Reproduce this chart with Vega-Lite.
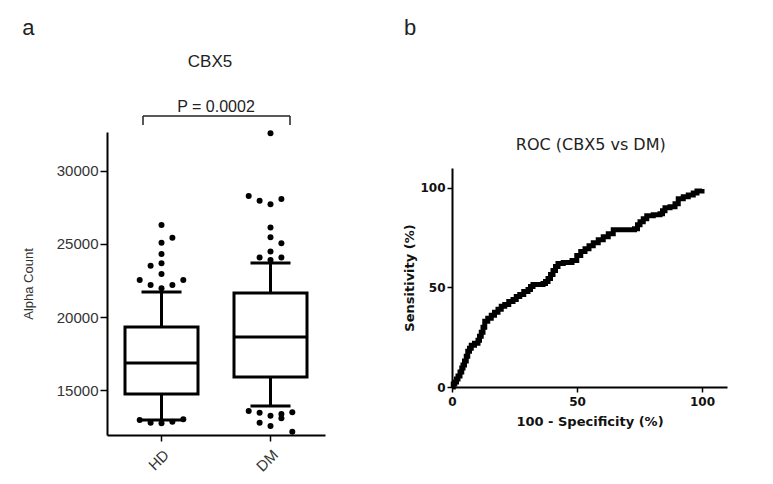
{
  "$schema": "https://vega.github.io/schema/vega-lite/v6.json",
  "background": "white",
  "padding": {"left": 22, "top": 16, "right": 5, "bottom": 5},
  "config": {"view": {"stroke": null}, "axis": {"grid": false, "domainColor": "black", "tickColor": "black"}},
  "spacing": 78,
  "hconcat": [
    {
      "width": 218,
      "height": 303,
      "title": {"text": "a", "anchor": "start", "font": "Liberation Sans", "fontSize": 22, "fontWeight": "normal", "color": "#222", "offset": 13},
      "layer": [
        {
          "data": {"values": [
            {"group": "HD", "lower": 12950, "q1": 14730, "median": 16850, "q3": 19320, "upper": 21710},
            {"group": "DM", "lower": 13900, "q1": 15890, "median": 18630, "q3": 21650, "upper": 23700}
          ]},
          "encoding": {
            "x": {"field": "group", "type": "nominal",
              "scale": {"domain": ["HD", "DM"], "paddingInner": 0, "paddingOuter": 0},
              "axis": {"title": null, "labelAngle": -45, "labelFont": "Liberation Sans", "labelFontSize": 15, "labelColor": "#333", "tickSize": 6, "tickWidth": 1.5, "domainWidth": 2, "labelPadding": 6}},
            "y": {"field": "lower", "type": "quantitative",
              "scale": {"domain": [11918, 32671], "nice": false, "zero": false},
              "axis": {"values": [15000, 20000, 25000, 30000], "format": "d", "title": "Alpha Count", "titleFont": "Liberation Sans", "titleFontSize": 13, "titleFontWeight": "normal", "titleColor": "#333", "titlePadding": 21, "labelFont": "Liberation Sans", "labelFontSize": 15, "labelColor": "#333", "labelPadding": 2, "tickSize": 7, "tickWidth": 1.5, "domainWidth": 2}}
          },
          "layer": [
            {"mark": {"type": "rule", "color": "black", "strokeWidth": 3}, "encoding": {"y2": {"field": "upper"}}},
            {"mark": {"type": "bar", "size": 73, "fill": "white", "stroke": "black", "strokeWidth": 3}, "encoding": {"y": {"field": "q1", "type": "quantitative"}, "y2": {"field": "q3"}}},
            {"mark": {"type": "tick", "size": 73, "thickness": 3, "color": "black", "opacity": 1}, "encoding": {"y": {"field": "median", "type": "quantitative"}}},
            {"mark": {"type": "tick", "size": 40, "thickness": 3, "color": "black", "opacity": 1}, "encoding": {"y": {"field": "lower", "type": "quantitative"}}},
            {"mark": {"type": "tick", "size": 40, "thickness": 3, "color": "black", "opacity": 1}, "encoding": {"y": {"field": "upper", "type": "quantitative"}}}
          ]
        },
        {
          "data": {"values": [
            {"group": "HD", "slot": 0, "value": 26300},
            {"group": "HD", "slot": 0, "value": 25090},
            {"group": "HD", "slot": 1, "value": 25430},
            {"group": "HD", "slot": 0, "value": 24315},
            {"group": "HD", "slot": -1, "value": 23514},
            {"group": "HD", "slot": 0, "value": 23676},
            {"group": "HD", "slot": 0, "value": 22945},
            {"group": "HD", "slot": -2, "value": 22534},
            {"group": "HD", "slot": -1, "value": 22192},
            {"group": "HD", "slot": 0, "value": 21966},
            {"group": "HD", "slot": 1, "value": 22192},
            {"group": "HD", "slot": 2, "value": 22534},
            {"group": "HD", "slot": -2, "value": 12945},
            {"group": "HD", "slot": -1, "value": 12760},
            {"group": "HD", "slot": 0, "value": 12717},
            {"group": "HD", "slot": 1, "value": 12829},
            {"group": "HD", "slot": 2, "value": 12990},
            {"group": "DM", "slot": 0, "value": 32582},
            {"group": "DM", "slot": -2, "value": 28288},
            {"group": "DM", "slot": -1, "value": 27966},
            {"group": "DM", "slot": 0, "value": 27719},
            {"group": "DM", "slot": 1, "value": 28082},
            {"group": "DM", "slot": 0, "value": 26130},
            {"group": "DM", "slot": 0, "value": 25466},
            {"group": "DM", "slot": 1, "value": 25055},
            {"group": "DM", "slot": 0, "value": 24486},
            {"group": "DM", "slot": -1, "value": 24075},
            {"group": "DM", "slot": 1, "value": 24075},
            {"group": "DM", "slot": 0, "value": 23904},
            {"group": "DM", "slot": -2, "value": 13562},
            {"group": "DM", "slot": -1, "value": 13445},
            {"group": "DM", "slot": 0, "value": 13240},
            {"group": "DM", "slot": 1, "value": 13356},
            {"group": "DM", "slot": 2, "value": 13469},
            {"group": "DM", "slot": -1, "value": 12760},
            {"group": "DM", "slot": 0, "value": 12534},
            {"group": "DM", "slot": 1, "value": 13062},
            {"group": "DM", "slot": 2, "value": 12144}
          ]},
          "mark": {"type": "point", "filled": true, "size": 36, "color": "black", "opacity": 1},
          "encoding": {
            "x": {"field": "group", "type": "nominal"},
            "xOffset": {"field": "slot", "type": "quantitative", "scale": {"domain": [-5, 5]}},
            "y": {"field": "value", "type": "quantitative"}
          }
        },
        {
          "data": {"values": [{"group": "HD", "other": "DM"}]},
          "mark": {"type": "rule", "color": "#222", "strokeWidth": 1.5, "xOffset": -18.5, "x2Offset": 19.5},
          "encoding": {"x": {"field": "group", "type": "nominal"}, "x2": {"field": "other"}, "y": {"datum": 33767, "type": "quantitative"}}
        },
        {
          "data": {"values": [{"group": "HD"}]},
          "mark": {"type": "rule", "color": "#222", "strokeWidth": 1.5, "xOffset": -18.5},
          "encoding": {"x": {"field": "group", "type": "nominal"}, "y": {"datum": 33767, "type": "quantitative"}, "y2": {"datum": 33150}}
        },
        {
          "data": {"values": [{"group": "DM"}]},
          "mark": {"type": "rule", "color": "#222", "strokeWidth": 1.5, "xOffset": 19.5},
          "encoding": {"x": {"field": "group", "type": "nominal"}, "y": {"datum": 33767, "type": "quantitative"}, "y2": {"datum": 33150}}
        },
        {
          "data": {"values": [{"group": "DM"}]},
          "mark": {"type": "text", "text": "P = 0.0002", "font": "Liberation Sans", "fontSize": 16, "color": "#222", "baseline": "alphabetic", "align": "center"},
          "encoding": {"x": {"field": "group", "type": "nominal", "bandPosition": 0}, "y": {"datum": 34041, "type": "quantitative"}}
        },
        {
          "data": {"values": [{"group": "DM"}]},
          "mark": {"type": "text", "text": "CBX5", "font": "Liberation Sans", "fontSize": 17, "color": "#222", "baseline": "alphabetic", "align": "center", "dx": -6},
          "encoding": {"x": {"field": "group", "type": "nominal", "bandPosition": 0}, "y": {"datum": 37124, "type": "quantitative"}}
        }
      ]
    },
    {
      "width": 275,
      "height": 255,
      "title": {"text": "b", "anchor": "start", "font": "Liberation Sans", "fontSize": 22, "fontWeight": "normal", "color": "#222", "offset": 92},
      "layer": [
        {
          "data": {"values": [
            {"fpr": 0, "tpr": 0},
            {"fpr": 0.5, "tpr": 1.5},
            {"fpr": 1.1, "tpr": 2.5},
            {"fpr": 1.8, "tpr": 4},
            {"fpr": 2.4, "tpr": 5.5},
            {"fpr": 3.2, "tpr": 7.5},
            {"fpr": 3.9, "tpr": 9.5},
            {"fpr": 4.4, "tpr": 11},
            {"fpr": 5, "tpr": 13},
            {"fpr": 5.7, "tpr": 15.5},
            {"fpr": 6.3, "tpr": 18},
            {"fpr": 7, "tpr": 19.5},
            {"fpr": 7.7, "tpr": 21},
            {"fpr": 9, "tpr": 22},
            {"fpr": 10.4, "tpr": 23.5},
            {"fpr": 11, "tpr": 25.5},
            {"fpr": 11.7, "tpr": 27.5},
            {"fpr": 12.4, "tpr": 30},
            {"fpr": 13.1, "tpr": 33},
            {"fpr": 14.3, "tpr": 34.5},
            {"fpr": 15.7, "tpr": 36},
            {"fpr": 17, "tpr": 37.5},
            {"fpr": 18.4, "tpr": 39},
            {"fpr": 19.7, "tpr": 40.5},
            {"fpr": 21.1, "tpr": 41.5},
            {"fpr": 22.7, "tpr": 43},
            {"fpr": 24.4, "tpr": 44},
            {"fpr": 25.7, "tpr": 45.5},
            {"fpr": 27.1, "tpr": 46.5},
            {"fpr": 28.7, "tpr": 48},
            {"fpr": 30.4, "tpr": 49},
            {"fpr": 31.4, "tpr": 50.5},
            {"fpr": 32.4, "tpr": 51.5},
            {"fpr": 34.4, "tpr": 51.5},
            {"fpr": 36.4, "tpr": 52},
            {"fpr": 37.4, "tpr": 53},
            {"fpr": 38.4, "tpr": 54.5},
            {"fpr": 39.4, "tpr": 56.5},
            {"fpr": 40.4, "tpr": 58.5},
            {"fpr": 41.4, "tpr": 60.5},
            {"fpr": 42.4, "tpr": 62},
            {"fpr": 44.5, "tpr": 62.5},
            {"fpr": 46.5, "tpr": 62.5},
            {"fpr": 48, "tpr": 63.5},
            {"fpr": 49.9, "tpr": 66},
            {"fpr": 51.5, "tpr": 68},
            {"fpr": 53.2, "tpr": 69.5},
            {"fpr": 54.8, "tpr": 71},
            {"fpr": 56.5, "tpr": 72.5},
            {"fpr": 58.5, "tpr": 74},
            {"fpr": 60.5, "tpr": 75.5},
            {"fpr": 62.5, "tpr": 77},
            {"fpr": 64.5, "tpr": 79},
            {"fpr": 67, "tpr": 79},
            {"fpr": 70, "tpr": 79},
            {"fpr": 73, "tpr": 79.5},
            {"fpr": 74.2, "tpr": 81.5},
            {"fpr": 75.2, "tpr": 83},
            {"fpr": 76.5, "tpr": 84.5},
            {"fpr": 77.9, "tpr": 86},
            {"fpr": 80.5, "tpr": 86.5},
            {"fpr": 83.2, "tpr": 87},
            {"fpr": 84.2, "tpr": 88.5},
            {"fpr": 85.2, "tpr": 90},
            {"fpr": 87.2, "tpr": 90.5},
            {"fpr": 89.2, "tpr": 92},
            {"fpr": 90.5, "tpr": 94.5},
            {"fpr": 92.5, "tpr": 95.5},
            {"fpr": 94.5, "tpr": 96.5},
            {"fpr": 96.5, "tpr": 97.5},
            {"fpr": 98, "tpr": 98.5},
            {"fpr": 100, "tpr": 99.5}
          ]},
          "mark": {"type": "line", "color": "black", "strokeWidth": 5, "strokeJoin": "miter", "interpolate": "step-after"},
          "encoding": {
            "x": {"field": "fpr", "type": "quantitative", "scale": {"domain": [0, 110], "nice": false},
              "axis": {"values": [0, 50, 100], "title": "100 - Specificity (%)", "titleFont": "DejaVu Sans", "titleFontSize": 13, "titleFontWeight": "bold", "titleColor": "#111", "titlePadding": 8, "labelFont": "DejaVu Sans", "labelFontSize": 12, "labelFontWeight": "bold", "labelColor": "#111", "labelPadding": 4, "labelFlush": false, "tickSize": 5, "tickWidth": 1.5, "domainWidth": 2}},
            "y": {"field": "tpr", "type": "quantitative", "scale": {"domain": [0, 110], "nice": false, "range": [255, 36]},
              "axis": {"values": [0, 50, 100], "title": "Sensitivity (%)", "titleFont": "DejaVu Sans", "titleFontSize": 13, "titleFontWeight": "bold", "titleColor": "#111", "titlePadding": 3, "labelFont": "DejaVu Sans", "labelFontSize": 12, "labelFontWeight": "bold", "labelColor": "#111", "labelPadding": 2, "tickSize": 5, "tickWidth": 1.5, "domainWidth": 2}}
          }
        },
        {
          "data": {"values": [{}]},
          "mark": {"type": "text", "text": "ROC (CBX5 vs DM)", "font": "DejaVu Sans", "fontSize": 16, "color": "#222", "baseline": "alphabetic", "align": "center"},
          "encoding": {"x": {"datum": 55.5, "type": "quantitative"}, "y": {"datum": 119, "type": "quantitative"}}
        }
      ]
    }
  ]
}
